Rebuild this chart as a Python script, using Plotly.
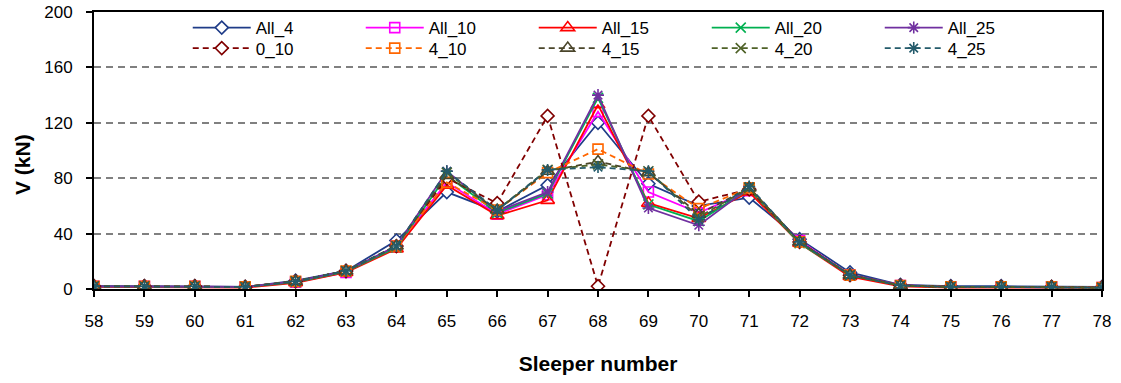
import plotly.graph_objects as go

# Sleeper positions along the track
sleepers = list(range(58, 79))

# Vertical rail-seat load V (kN) per sleeper, one list per case
all_4 = [2, 2, 2, 1.5, 6, 13, 35, 70, 56, 75, 120, 76, 60, 66, 36, 12, 3, 2, 2, 1.5, 1.5]
all_10 = [2, 2, 2, 1.5, 5, 12, 31, 77, 54, 68, 128, 70, 55, 71, 35, 10, 2.5, 1.5, 1.5, 1.5, 1]
all_15 = [1.5, 1.5, 1.5, 1, 4.5, 12, 29, 75, 53, 64, 133, 62, 51, 70, 33, 9, 2, 1, 1, 1, 1]
all_20 = [2, 2, 2, 1.5, 5, 12.5, 30, 82, 55, 69, 138, 61, 49, 72, 33, 10, 2.5, 1.5, 1.5, 1.5, 1]
all_25 = [2, 2, 2, 1.5, 5.5, 13, 31, 85, 56, 70, 140, 58.5, 46, 73, 34, 10.5, 3, 1.5, 1.5, 1.5, 1]
case_0_10 = [2, 2, 2, 1.5, 5.5, 13, 31, 80, 62, 125, 2, 125, 63, 72, 34, 10, 2.5, 1.5, 1.5, 1.5, 1]
case_4_10 = [2, 2, 2, 1.5, 5.5, 13, 31, 77, 57, 84, 101, 83, 58, 73, 34, 10, 2.5, 1.5, 1.5, 1.5, 1]
case_4_15 = [2, 2, 2, 1.5, 5.5, 13, 31, 82, 57, 85, 92, 84, 54, 73, 34, 10, 2.5, 1.5, 1.5, 1.5, 1]
case_4_20 = [2, 2, 2, 1.5, 5.5, 13, 31, 84, 57, 86, 90, 85, 52, 73, 34, 10, 2.5, 1.5, 1.5, 1.5, 1]
case_4_25 = [2, 2, 2, 1.5, 5.5, 13, 31, 85, 57, 86, 88, 85, 50, 74, 34, 10, 2.5, 1.5, 1.5, 1.5, 1]

y_ticks = [0, 40, 80, 120, 160, 200]

FONT = "Liberation Sans, Arial, sans-serif"

# name, values, colour, marker symbol, marker fill, dash, legend
series = [
    ("All_4", all_4, "#1F3C88", "diamond", "white", "solid", "legend"),
    ("All_10", all_10, "#FF00FF", "square-open", None, "solid", "legend"),
    ("All_15", all_15, "#FF0000", "triangle-up-open", None, "solid", "legend"),
    ("All_20", all_20, "#00B050", "x-thin-open", None, "solid", "legend"),
    ("All_25", all_25, "#7030A0", "asterisk-open", None, "solid", "legend"),
    ("0_10", case_0_10, "#800000", "diamond", "white", "dash", "legend2"),
    ("4_10", case_4_10, "#FF6600", "square-open", None, "dash", "legend2"),
    ("4_15", case_4_15, "#4A452A", "triangle-up-open", None, "dash", "legend2"),
    ("4_20", case_4_20, "#4F6228", "x-thin-open", None, "dash", "legend2"),
    ("4_25", case_4_25, "#245B6B", "asterisk-open", None, "dash", "legend2"),
]

fig = go.Figure()
for name, vals, color, symbol, fill, dash, leg in series:
    size = 12 if symbol.startswith("triangle") else 10
    fig.add_trace(go.Scatter(
        x=sleepers, y=vals, name=name, mode="lines+markers",
        line=dict(color=color, width=1.8, dash="6px,4px" if dash == "dash" else "solid"),
        marker=dict(symbol=symbol, size=size,
                    color=fill if fill else color,
                    line=dict(color=color, width=1.6)),
        legend=leg,
    ))

legend_common = dict(
    orientation="h", xanchor="left", yanchor="middle",
    font=dict(family=FONT, size=17, color="black"),
    bgcolor="rgba(0,0,0,0)", itemwidth=58,
    entrywidth=100, entrywidthmode="pixels",
    tracegroupgap=0, itemclick=False,
)

fig.update_layout(
    width=1121, height=383,
    margin=dict(l=94, r=19, t=12, b=94, autoexpand=False),
    paper_bgcolor="white", plot_bgcolor="white",
    font=dict(family=FONT, size=17, color="black"),
    showlegend=True,
    legend=dict(x=0.093, y=0.942, **legend_common),
    legend2=dict(x=0.093, y=0.868, **legend_common),
    xaxis=dict(
        range=[58, 78], tickmode="array", tickvals=sleepers,
        ticktext=[str(s) for s in sleepers],
        showline=True, linecolor="black", linewidth=2, mirror=True,
        ticks="outside", ticklen=6, tickwidth=1.5, tickcolor="black",
        ticklabelstandoff=10,
        showgrid=False, zeroline=False,
        tickfont=dict(family=FONT, size=17),
        title=dict(text="Sleeper number", standoff=26,
                   font=dict(family=FONT, size=21, weight="bold")),
    ),
    yaxis=dict(
        range=[0, 200], tickmode="array", tickvals=y_ticks,
        showline=True, linecolor="black", linewidth=2, mirror=True,
        ticks="outside", ticklen=6, tickwidth=1.5, tickcolor="black",
        ticklabelstandoff=10,
        showgrid=True, gridcolor="#808080", gridwidth=1.5, griddash="7px,5px",
        zeroline=False,
        tickfont=dict(family=FONT, size=17),
    ),
    annotations=[dict(
        text="V (kN)", textangle=-90, xref="paper", yref="paper",
        x=(22 - 94) / 1008, y=(289 - 165) / 277, xanchor="center", yanchor="middle",
        showarrow=False, font=dict(family=FONT, size=21, weight="bold"),
    )],
)

fig.write_html("out.html")
